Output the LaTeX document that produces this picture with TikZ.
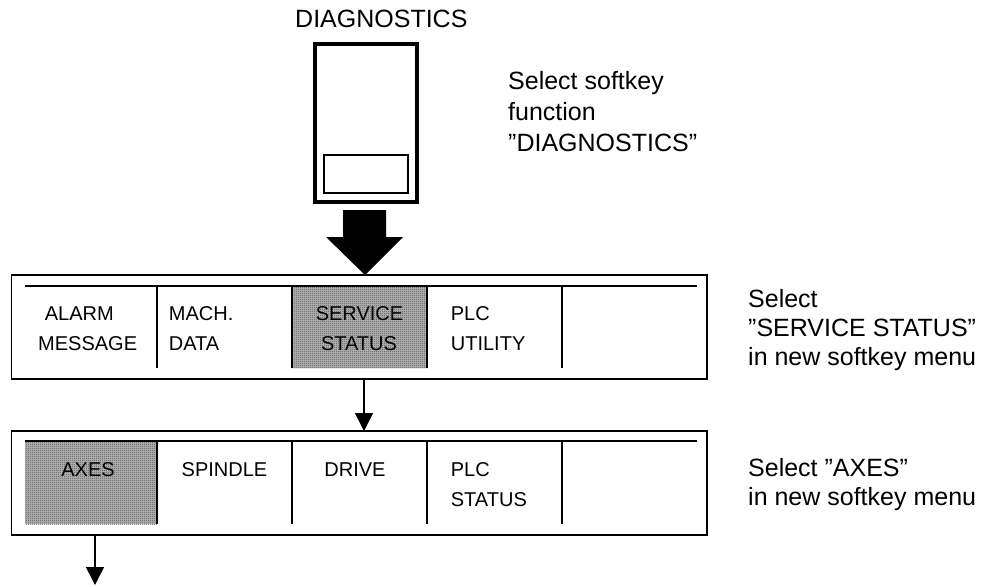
\documentclass[tikz,border=0pt]{standalone}
\usepackage{fontspec}
\setmainfont{Liberation Sans}
\usetikzlibrary{arrows.meta,patterns}
\pgfdeclarepatternformonly{halftone}{\pgfqpoint{0pt}{0pt}}{\pgfqpoint{2pt}{2pt}}{\pgfqpoint{2pt}{2pt}}{%
  \pgfpathrectangle{\pgfqpoint{0pt}{0pt}}{\pgfqpoint{1pt}{1pt}}%
  \pgfpathrectangle{\pgfqpoint{1pt}{1pt}}{\pgfqpoint{1pt}{1pt}}%
  \pgfusepath{fill}}
\begin{document}
\begin{tikzpicture}[x=1pt,y=-1pt,
  menubox/.style={draw, line width=1.6pt, inner sep=0pt, outer sep=0pt},
  keybox/.style={draw, line width=4pt, inner sep=0pt, outer sep=0pt},
  thin/.style={line width=1.5pt},
  shadebase/.style={fill=black!28},
  shade/.style={pattern=halftone, pattern color=black!70},
  conn/.style={line width=1.5pt, -{Triangle[length=18pt,width=18pt]}},
  mtxt/.style={font=\fontsize{20}{24}\selectfont, inner sep=0pt},
  stxt/.style={font=\fontsize{25}{30}\selectfont, inner sep=0pt, anchor=base west},
]
\useasboundingbox (0,0) rectangle (992,586);

% title
\node[stxt] (title) at (295,28) {DIAGNOSTICS};

% softkey
\node[keybox, minimum width=101.5pt, minimum height=158pt] (key) at (365.75,123) {};
\node[draw, line width=2.8pt, inner sep=0pt, minimum width=84pt, minimum height=38pt] (keyin) at (366,174) {};

% big arrow
\fill (343,210) -- (386,210) -- (386,237) -- (403,237) -- (365,275) -- (326,237) -- (343,237) -- cycle;

% side texts
\node[stxt] (t1a) at (508,89) {Select softkey};
\node[stxt] (t1b) at (508,120) {function};
\node[stxt] (t1c) at (508,151) {”DIAGNOSTICS”};

\node[stxt] (t2a) at (748,307) {Select};
\node[stxt] (t2b) at (748,336) {”SERVICE STATUS”};
\node[stxt] (t2c) at (748,365) {in new softkey menu};

\node[stxt] (t3a) at (748,476) {Select ”AXES”};
\node[stxt] (t3b) at (748,505) {in new softkey menu};

% menu 1
\node[menubox, minimum width=695.5pt, minimum height=104pt] (m1) at (359.25,327) {};
\fill[shadebase] (292,287) rectangle (427,368);
\fill[shade] (292,287) rectangle (427,368);
\draw[thin] (25,286) -- (697,286);
\foreach \x in {157,292,427,562} \draw[thin] (\x,286) -- (\x,368);
\node[mtxt, anchor=base west] (alarm) at (44.7,320) {ALARM};
\node[mtxt, anchor=base west] (message) at (38,350) {MESSAGE};
\node[mtxt, anchor=base west] (mach) at (168.7,320) {MACH.};
\node[mtxt, anchor=base west] (data) at (168.7,350) {DATA};
\node[mtxt, anchor=base] (service) at (359.5,320) {SERVICE};
\node[mtxt, anchor=base] (status1) at (359,350) {STATUS};
\node[mtxt, anchor=base west] (plc1) at (450.7,320) {PLC};
\node[mtxt, anchor=base west] (utility) at (450.7,350) {UTILITY};

% menu 2
\node[menubox, minimum width=695.5pt, minimum height=104pt] (m2) at (359.25,483) {};
\fill[shadebase] (25,442) rectangle (157,524);
\fill[shade] (25,442) rectangle (157,524);
\draw[thin] (25,441) -- (697,441);
\foreach \x in {157,292,427,562} \draw[thin] (\x,441) -- (\x,524);
\node[mtxt, anchor=base] (axes) at (88,476) {AXES};
\node[mtxt, anchor=base] (spindle) at (224.5,476) {SPINDLE};
\node[mtxt, anchor=base] (drive) at (355,476) {DRIVE};
\node[mtxt, anchor=base west] (plc2) at (450.7,476) {PLC};
\node[mtxt, anchor=base west] (status2) at (450.7,506) {STATUS};

% connectors
\coordinate (a1) at (364,379);
\draw[conn] (a1) -- (a1 |- m2.north);
\coordinate (a2) at (95,535);
\coordinate (a2e) at (95,585);
\draw[conn] (a2) -- (a2e);
\end{tikzpicture}
\end{document}
